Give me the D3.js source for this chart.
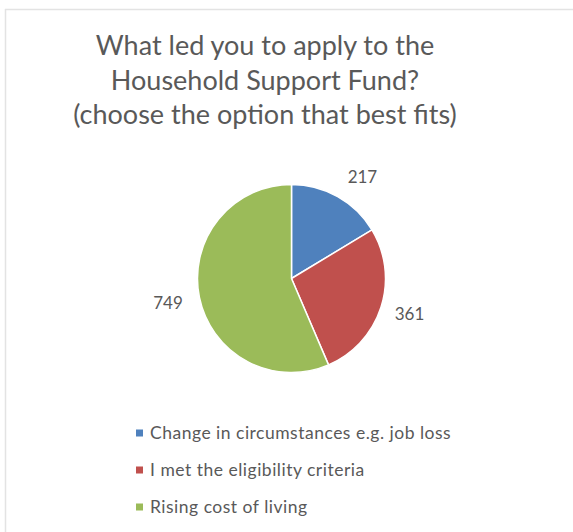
<!DOCTYPE html>
<html>
<head>
<meta charset="utf-8">
<script src="https://cdn.jsdelivr.net/npm/d3@7"></script>
<style>
  html, body { margin: 0; padding: 0; background: #fff; }
  svg { display: block; }
</style>
</head>
<body>
<svg id="chart" width="573" height="532"></svg>
<script>
// Survey responses: reason for applying to the Household Support Fund
const categories = [
  "Change in circumstances e.g. job loss",
  "I met the eligibility criteria",
  "Rising cost of living"
];
const counts = [217, 361, 749];
const colors = ["#4F81BD", "#C0504D", "#9BBB59"];
const titleLines = [
  "What led you to apply to the",
  "Household Support Fund?",
  "(choose the option that best fits)"
];

const W = 573, H = 532;
const font = "Lato, 'Open Sans', sans-serif";
const textColor = "#595959";
const svg = d3.select("#chart");

// Chart frame (light sheet edges)
svg.append("line").attr("x1", 5.5).attr("x2", 5.5).attr("y1", 9).attr("y2", H)
  .attr("stroke", "#e3e3e3").attr("stroke-width", 1.5);
svg.append("line").attr("x1", 5).attr("x2", W).attr("y1", 9.5).attr("y2", 9.5)
  .attr("stroke", "#e3e3e3").attr("stroke-width", 1.5);

// Title
svg.append("g").selectAll("text").data(titleLines).join("text")
  .attr("x", 265)
  .attr("y", (d, i) => 55 + i * 34.7)
  .attr("text-anchor", "middle")
  .attr("font-family", font)
  .attr("font-size", 27)
  .attr("fill", textColor)
  .text(d => d);

// Pie
const cx = 291.5, cy = 278.5, r = 94;
const pie = d3.pie().sort(null).value(d => d)(counts);
const arc = d3.arc().innerRadius(0).outerRadius(r);
const g = svg.append("g").attr("transform", `translate(${cx},${cy})`);
g.selectAll("path").data(pie).join("path")
  .attr("d", arc)
  .attr("fill", (d, i) => colors[i])
  .attr("stroke", "#fff")
  .attr("stroke-width", 1.5)
  .attr("stroke-linejoin", "round");

// Data labels outside the slices (best-fit style: small nudges keep them clear)
const labelArc = d3.arc().innerRadius(r + 30).outerRadius(r + 30);
const labelNudge = [[10, 7], [0, -2], [-2, 0]];
g.selectAll("text").data(pie).join("text")
  .attr("transform", (d, i) => {
    const [x, y] = labelArc.centroid(d);
    return `translate(${x + labelNudge[i][0]},${y + labelNudge[i][1]})`;
  })
  .attr("text-anchor", "middle")
  .attr("dy", "0.35em")
  .attr("font-family", font)
  .attr("font-size", 17)
  .attr("fill", textColor)
  .text(d => d.data);

// Legend
const legend = svg.append("g").attr("transform", "translate(136,433)");
const rows = legend.selectAll("g").data(categories).join("g")
  .attr("transform", (d, i) => `translate(0,${i * 37})`);
rows.append("rect")
  .attr("x", 0).attr("y", -3.5).attr("width", 7).attr("height", 7)
  .attr("fill", (d, i) => colors[i]);
rows.append("text")
  .attr("x", 14).attr("y", 0).attr("dy", "0.35em")
  .attr("font-family", font)
  .attr("font-size", 17.5)
  .attr("letter-spacing", 0.5)
  .attr("fill", textColor)
  .text(d => d);
</script>
</body>
</html>
